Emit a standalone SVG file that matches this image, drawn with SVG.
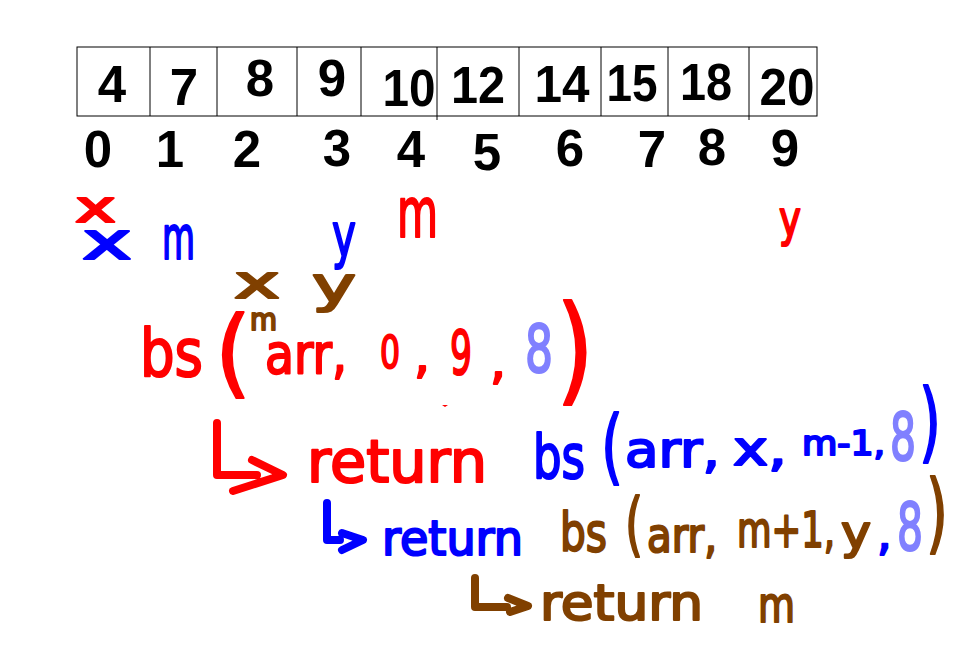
<svg xmlns="http://www.w3.org/2000/svg" width="962" height="646" viewBox="0 0 962 646">
<style>
.cellv{font-family:"Liberation Sans",Arial,sans-serif;font-weight:bold;font-size:51px;fill:#000;text-anchor:middle}
.idx{font-family:"Liberation Sans",Arial,sans-serif;font-weight:bold;font-size:51px;fill:#000;text-anchor:middle}
.hw{font-family:"DejaVu Sans",sans-serif;font-weight:normal;stroke-width:2.2;stroke-linejoin:round}
.r{fill:#ff0000;stroke:#ff0000}
.b{fill:#0000ff;stroke:#0000ff}
.br{fill:#804000;stroke:#804000}
.lb{fill:#8080ff;stroke:#8080ff}
.arw{fill:none;stroke-width:8;stroke-linecap:round;stroke-linejoin:round}
</style>
<rect width="962" height="646" fill="#ffffff"/>
<g id="array">
<rect x="77" y="47" width="740" height="69" fill="none" stroke="#000" stroke-width="1"/>
<path d="M150,47V116M217,47V116M297,47V116M361,47V116M437,47V120M519,47V116M601,47V116M668,47V116M749,47V120" stroke="#000" stroke-width="1" fill="none"/>
<text class="cellv" x="112" y="102">4</text>
<text class="cellv" x="184" y="105">7</text>
<text class="cellv" x="260" y="96">8</text>
<text class="cellv" x="332" y="96">9</text>
<text class="cellv" x="409" y="106" textLength="53" lengthAdjust="spacingAndGlyphs">10</text>
<text class="cellv" x="478" y="103" textLength="54" lengthAdjust="spacingAndGlyphs">12</text>
<text class="cellv" x="562" y="102" textLength="55" lengthAdjust="spacingAndGlyphs">14</text>
<text class="cellv" x="632" y="101" textLength="51" lengthAdjust="spacingAndGlyphs">15</text>
<text class="cellv" x="706" y="100" textLength="52" lengthAdjust="spacingAndGlyphs">18</text>
<text class="cellv" x="787" y="105" textLength="55" lengthAdjust="spacingAndGlyphs">20</text>
</g>
<g id="indices">
<text class="idx" x="98" y="167">0</text>
<text class="idx" x="170" y="167">1</text>
<text class="idx" x="247" y="167">2</text>
<text class="idx" x="337" y="166">3</text>
<text class="idx" x="411" y="167">4</text>
<text class="idx" x="487" y="170">5</text>
<text class="idx" x="570" y="166">6</text>
<text class="idx" x="652" y="167">7</text>
<text class="idx" x="712" y="165">8</text>
<text class="idx" x="785" y="166">9</text>
</g>
<g id="pointers">
<text class="hw r" x="75" y="222" font-size="44" textLength="41" lengthAdjust="spacingAndGlyphs">x</text>
<text class="hw b" x="82" y="259" font-size="52" textLength="50" lengthAdjust="spacingAndGlyphs">x</text>
<text class="hw b" x="162" y="259" font-size="60" textLength="33" lengthAdjust="spacingAndGlyphs">m</text>
<text class="hw b" x="332" y="256" font-size="60" textLength="24" lengthAdjust="spacingAndGlyphs">y</text>
<text class="hw r" x="397" y="237" font-size="70" textLength="41" lengthAdjust="spacingAndGlyphs">m</text>
<text class="hw r" x="779" y="236" font-size="50" textLength="22" lengthAdjust="spacingAndGlyphs">y</text>
<text class="hw br" x="234" y="298" font-size="46" textLength="46" lengthAdjust="spacingAndGlyphs">x</text>
<text class="hw br" x="312" y="302" font-size="49" textLength="44" lengthAdjust="spacingAndGlyphs">y</text>
<text class="hw br" x="250" y="330" font-size="30" textLength="27" lengthAdjust="spacingAndGlyphs">m</text>
</g>
<g id="call-1">
<text class="hw r" x="140" y="376" font-size="66" textLength="63" lengthAdjust="spacingAndGlyphs">bs</text>
<text class="hw r" x="215" y="385" font-size="96" textLength="36" lengthAdjust="spacingAndGlyphs">(</text>
<text class="hw r" x="265" y="373" font-size="56" textLength="82" lengthAdjust="spacingAndGlyphs">arr,</text>
<text class="hw r" x="380" y="368" font-size="45" textLength="20" lengthAdjust="spacingAndGlyphs">0</text>
<text class="hw r" x="414" y="372" font-size="50">,</text>
<text class="hw r" x="450" y="374" font-size="60" textLength="22" lengthAdjust="spacingAndGlyphs">9</text>
<text class="hw r" x="490" y="378" font-size="50">,</text>
<text class="hw lb" x="525" y="372" font-size="66" textLength="28" lengthAdjust="spacingAndGlyphs">8</text>
<text class="hw r" x="556" y="390" font-size="118" textLength="38" lengthAdjust="spacingAndGlyphs">)</text>
<path d="M442,405h6l-3,2z" fill="#ff0000"/>
</g>
<g id="arrows">
<path class="arw" stroke="#ff0000" d="M217,423V475H257M252,460L283,475L233,491"/>
<path class="arw" stroke="#0000ff" d="M327,503V540H340M342,533L363,540L342,550"/>
<path class="arw" stroke="#804000" d="M475,578V607H507M508,598L528,606L510,612"/>
</g>
<g id="call-2">
<text class="hw r" x="307" y="482" font-size="58" textLength="180" lengthAdjust="spacingAndGlyphs">return</text>
<text class="hw b" x="533" y="478" font-size="60" textLength="52" lengthAdjust="spacingAndGlyphs">bs</text>
<text class="hw b" x="601" y="474" font-size="82" textLength="22" lengthAdjust="spacingAndGlyphs">(</text>
<text class="hw b" x="625" y="467" font-size="50" textLength="95" lengthAdjust="spacingAndGlyphs">arr,</text>
<text class="hw b" x="733" y="465" font-size="48" textLength="54" lengthAdjust="spacingAndGlyphs">x,</text>
<text class="hw b" x="802" y="455" font-size="34" textLength="83" lengthAdjust="spacingAndGlyphs">m-1,</text>
<text class="hw lb" x="890" y="460" font-size="65" textLength="26" lengthAdjust="spacingAndGlyphs">8</text>
<text class="hw b" x="919" y="451" font-size="88" textLength="22" lengthAdjust="spacingAndGlyphs">)</text>
</g>
<g id="call-3">
<text class="hw b" x="382" y="555" font-size="48" textLength="141" lengthAdjust="spacingAndGlyphs">return</text>
<text class="hw br" x="560" y="551" font-size="54" textLength="47" lengthAdjust="spacingAndGlyphs">bs</text>
<text class="hw br" x="625" y="548" font-size="70" textLength="18" lengthAdjust="spacingAndGlyphs">(</text>
<text class="hw br" x="647" y="552" font-size="48" textLength="70" lengthAdjust="spacingAndGlyphs">arr,</text>
<text class="hw br" x="737" y="547" font-size="50" textLength="98" lengthAdjust="spacingAndGlyphs">m+1,</text>
<text class="hw br" x="841" y="548" font-size="46" textLength="30" lengthAdjust="spacingAndGlyphs">y</text>
<text class="hw b" x="877" y="550" font-size="46">,</text>
<text class="hw lb" x="897" y="550" font-size="65" textLength="26" lengthAdjust="spacingAndGlyphs">8</text>
<text class="hw br" x="926" y="542" font-size="88" textLength="22" lengthAdjust="spacingAndGlyphs">)</text>
</g>
<g id="result">
<text class="hw br" x="540" y="620" font-size="50" textLength="163" lengthAdjust="spacingAndGlyphs">return</text>
<text class="hw br" x="758" y="622" font-size="50" textLength="37" lengthAdjust="spacingAndGlyphs">m</text>
</g>
</svg>
